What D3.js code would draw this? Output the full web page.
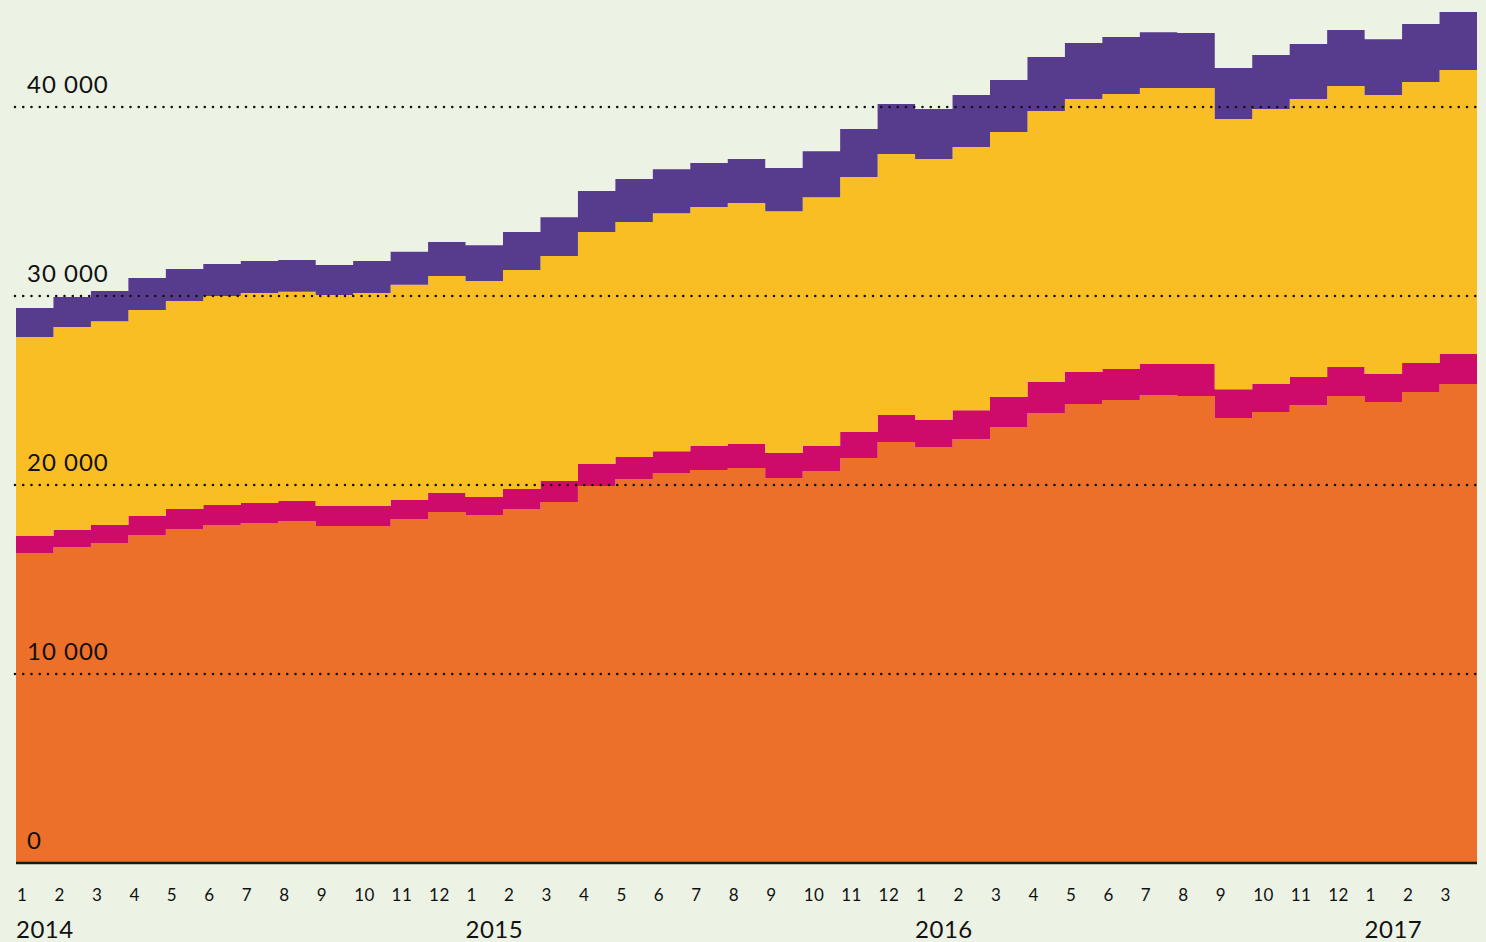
<!DOCTYPE html>
<html>
<head>
<meta charset="utf-8">
<script src="https://cdn.jsdelivr.net/npm/d3@7"></script>
<style>
body { margin: 0; background: #ecf3e5; }
svg { display: block; }
text { font-family: Lato, "Noto Sans", sans-serif; fill: #111; }
</style>
</head>
<body>
<script>
const width = 1486;
const height = 942;

// months, Jan 2014 .. Mar 2017
const monthLabels = ["1","2","3","4","5","6","7","8","9","10","11","12",
                     "1","2","3","4","5","6","7","8","9","10","11","12",
                     "1","2","3","4","5","6","7","8","9","10","11","12",
                     "1","2","3"];
const yearLabels = ["2014", "2015", "2016", "2017"];
const yearStartIndex = [0, 12, 24, 36];
const yTicks = [0, 10000, 20000, 30000, 40000];

// stacked series, bottom to top
const orangeValues = [16400,16720,16930,17350,17670,17880,17990,18100,17830,17830,18200,18570,
                      18410,18730,19100,19950,20320,20630,20790,20900,20370,20740,21430,22270,
                      22010,22430,23070,23810,24290,24500,24760,24710,23540,23860,24230,24710,
                      24390,24920,25340];
const magentaValues = [900,900,950,1010,1060,1060,1060,1060,1060,1060,1010,1010,
                       950,1060,1110,1160,1160,1160,1270,1270,1320,1320,1380,1430,
                       1430,1530,1590,1640,1690,1640,1640,1690,1530,1480,1480,1530,
                       1480,1530,1590];
const yellowValues = [10530,10740,10790,10900,11010,11060,11110,11060,11160,11270,11380,11480,
                      11430,11590,11900,12280,12430,12590,12650,12750,12800,13170,13490,13810,
                      13810,13920,14020,14340,14440,14550,14600,14600,14290,14550,14710,14870,
                      14760,14870,15030];
const purpleValues = [1530,1590,1590,1690,1690,1690,1690,1690,1590,1690,1750,1800,
                      1900,2010,2060,2170,2280,2330,2330,2330,2280,2430,2540,2650,
                      2650,2750,2750,2860,2960,3020,2960,2910,2700,2860,2910,2960,
                      2960,3070,3070];

const keys = ["orange", "magenta", "yellow", "purple"];
const colors = { orange: "#ec6f2a", magenta: "#ce0b6a", yellow: "#f9be24", purple: "#573c8e" };

let rows = monthLabels.map((m, i) => ({
    i: i,
    orange: orangeValues[i],
    magenta: magentaValues[i],
    yellow: yellowValues[i],
    purple: purpleValues[i]
}));
// extra closing row so the last step gets its full width
rows.push(Object.assign({}, rows[rows.length - 1], { i: rows.length }));

let svg = d3.select("body").append("svg").attr("width", width).attr("height", height);

let x = d3.scaleLinear().domain([0, monthLabels.length]).range([16, 1477]);
let y = d3.scaleLinear().domain([0, 40000]).range([863, 107]);

let stacked = d3.stack().keys(keys)(rows);

let area = d3.area()
    .curve(d3.curveStepAfter)
    .x(d => x(d.data.i))
    .y0(d => y(d[0]))
    .y1(d => y(d[1]));

svg.append("g")
    .selectAll("path")
    .data(stacked)
    .enter()
    .append("path")
    .attr("d", area)
    .attr("fill", d => colors[d.key]);

// dotted gridlines on top of the areas
let grid = svg.append("g");
grid.selectAll("line")
    .data(yTicks.filter(d => d > 0))
    .enter()
    .append("line")
    .attr("x1", x(0) - 1)
    .attr("x2", x(monthLabels.length) + 1)
    .attr("y1", d => y(d))
    .attr("y2", d => y(d))
    .attr("stroke", "#111")
    .attr("stroke-width", 2.6)
    .attr("stroke-linecap", "round")
    .attr("stroke-dasharray", "0 8.25");

const fmt = v => d3.format(",")(v).replace(/,/g, " ");

grid.selectAll("text")
    .data(yTicks)
    .enter()
    .append("text")
    .attr("x", 27)
    .attr("y", d => y(d) - 14)
    .attr("font-size", 24)
    .attr("letter-spacing", 1)
    .style("white-space", "pre")
    .text(d => fmt(d));

// baseline
svg.append("line")
    .attr("x1", x(0))
    .attr("x2", x(monthLabels.length))
    .attr("y1", y(0))
    .attr("y2", y(0))
    .attr("stroke", "#1a1a1a")
    .attr("stroke-width", 2.5);

// month labels
svg.append("g")
    .selectAll("text")
    .data(monthLabels)
    .enter()
    .append("text")
    .attr("x", (d, i) => x(i) + 1)
    .attr("y", 901)
    .attr("font-size", 17)
    .attr("letter-spacing", 0.5)
    .text(d => d);

// year labels
svg.append("g")
    .selectAll("text")
    .data(yearLabels)
    .enter()
    .append("text")
    .attr("x", (d, i) => x(yearStartIndex[i]))
    .attr("y", 938)
    .attr("font-size", 24)
    .attr("letter-spacing", 0.5)
    .text(d => d);
</script>
</body>
</html>
